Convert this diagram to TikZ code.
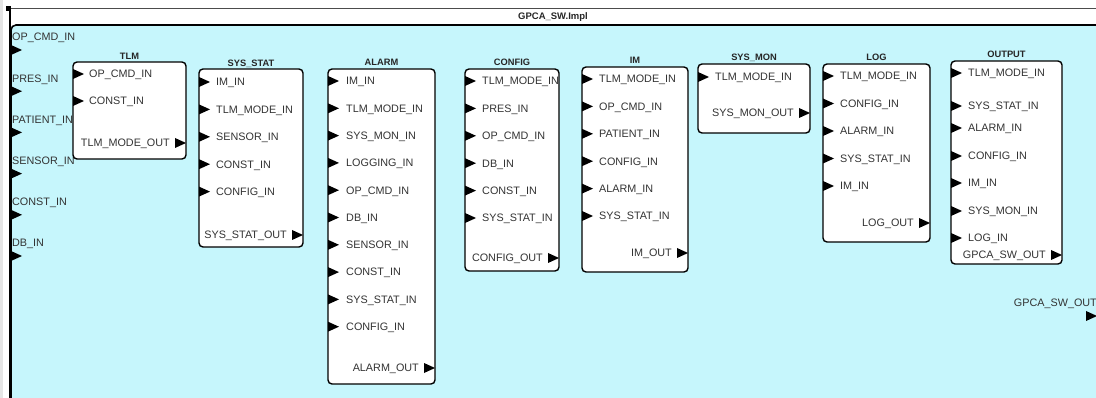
\documentclass[tikz,border=0pt]{standalone}
\usepackage{fontspec}
\setmainfont{Liberation Sans}
\usetikzlibrary{positioning, calc}
\definecolor{panelcyan}{RGB}{198,246,252}

\begin{document}
\begin{tikzpicture}[
		x=1pt, y=-1pt,
		panel/.style={rectangle, draw, line width=1.6pt, fill=panelcyan, rounded corners=5pt, anchor=north west, inner sep=0pt, outer sep=0pt},
		block/.style={rectangle, draw, line width=1.4pt, fill=white, rounded corners=4pt, anchor=north west, inner sep=0pt, outer sep=0pt},
		blocktitle/.style={anchor=base, font=\bfseries\fontsize{9.3}{10}\selectfont, text=black!85, inner sep=0pt},
		portlbl/.style={font=\fontsize{10.8}{12}\selectfont, text=black!80, inner sep=0pt, text height=7.8pt, text depth=0pt},
		intip/.pic={\fill (0,-5) -- (11,0) -- (0,5) -- cycle;},
		outtip/.pic={\fill (-11,-5) -- (0,0) -- (-11,5) -- cycle;}
		]
		\useasboundingbox (0,0) rectangle (1096,398);
		\clip (0,0) rectangle (1096,398);
		\fill[gray!20] (0,0) rectangle (3,398);
		
		% frame and title bar
		\draw[gray!60!black, line width=1pt] (8,9) -- (1100,9);
		\node[panel, minimum width=1100pt, minimum height=390pt] (gpca) at (11,25) {};
		\draw[line width=1.2pt] (10,8) -- (10,400);
		\fill (6,6) rectangle (11,11);
		\node[font=\bfseries\fontsize{9.5}{10}\selectfont, text=black!85] (gpcatitle) at (553,17) {GPCA\_SW.Impl};
		
		% outer ports
		\foreach \lbl [count=\k from 0] in {OP\_CMD\_IN, PRES\_IN, PATIENT\_IN, SENSOR\_IN, CONST\_IN, DB\_IN} {
			\node[portlbl, anchor=west] (ext\k) at ([xshift=1pt, yshift={-(12+41.2*\k)}]gpca.north west) {\lbl};
			\pic at ([yshift={-(25+41.2*\k)}]gpca.north west) {intip};
		}
		\coordinate (swout) at (1097,316);
		\node[portlbl, anchor=east] (swoutlbl) at (1097,303) {GPCA\_SW\_OUT};
		\pic at (swout) {outtip};
		
		% subcomponents
		\node[block, minimum width=113pt, minimum height=97pt] (tlm) at (73,62) {};
		\node[block, minimum width=104pt, minimum height=178pt] (sysstat) at (199,69) {};
		\node[block, minimum width=107pt, minimum height=315pt] (alarm) at (328,69) {};
		\node[block, minimum width=94pt, minimum height=202pt] (config) at (465,69) {};
		\node[block, minimum width=106pt, minimum height=205pt] (im) at (582,67) {};
		\node[block, minimum width=112pt, minimum height=69pt] (sysmon) at (698,64) {};
		\node[block, minimum width=107pt, minimum height=178pt] (log) at (823,64) {};
		\node[block, minimum width=111pt, minimum height=203pt] (output) at (951,61) {};
		
		\node[blocktitle] at ([yshift=2.5pt]tlm.north) {TLM};
		\node[blocktitle] at ([yshift=2.5pt]sysstat.north) {SYS\_STAT};
		\node[blocktitle] at ([yshift=3pt]alarm.north) {ALARM};
		\node[blocktitle] at ([yshift=3pt]config.north) {CONFIG};
		\node[blocktitle] at ([yshift=3pt]im.north) {IM};
		\node[blocktitle] at ([yshift=3pt]sysmon.north) {SYS\_MON};
		\node[blocktitle] at ([yshift=3pt]log.north) {LOG};
		\node[blocktitle] at ([yshift=3pt]output.north) {OUTPUT};
		
		% input ports
		\foreach \lbl [count=\k from 0] in {OP\_CMD\_IN, CONST\_IN} {
			\pic at ([yshift={-(12+27*\k)}]tlm.north west) {intip};
			\node[portlbl, anchor=west] at ([xshift=16pt, yshift={-(12+27*\k)}]tlm.north west) {\lbl};
		}
		\foreach \lbl [count=\k from 0] in {IM\_IN, TLM\_MODE\_IN, SENSOR\_IN, CONST\_IN, CONFIG\_IN} {
			\pic at ([yshift={-(13+27.4*\k)}]sysstat.north west) {intip};
			\node[portlbl, anchor=west] at ([xshift=17pt, yshift={-(13+27.4*\k)}]sysstat.north west) {\lbl};
		}
		\foreach \lbl [count=\k from 0] in {IM\_IN, TLM\_MODE\_IN, SYS\_MON\_IN, LOGGING\_IN, OP\_CMD\_IN, DB\_IN, SENSOR\_IN, CONST\_IN, SYS\_STAT\_IN, CONFIG\_IN} {
			\pic at ([yshift={-(12+27.3*\k)}]alarm.north west) {intip};
			\node[portlbl, anchor=west] at ([xshift=18pt, yshift={-(12+27.3*\k)}]alarm.north west) {\lbl};
		}
		\foreach \lbl [count=\k from 0] in {TLM\_MODE\_IN, PRES\_IN, OP\_CMD\_IN, DB\_IN, CONST\_IN, SYS\_STAT\_IN} {
			\pic at ([yshift={-(12+27.4*\k)}]config.north west) {intip};
			\node[portlbl, anchor=west] at ([xshift=17pt, yshift={-(12+27.4*\k)}]config.north west) {\lbl};
		}
		\foreach \lbl [count=\k from 0] in {TLM\_MODE\_IN, OP\_CMD\_IN, PATIENT\_IN, CONFIG\_IN, ALARM\_IN, SYS\_STAT\_IN} {
			\pic at ([yshift={-(12+27.4*\k)}]im.north west) {intip};
			\node[portlbl, anchor=west] at ([xshift=17pt, yshift={-(12+27.4*\k)}]im.north west) {\lbl};
		}
		\pic at ([yshift=-13pt]sysmon.north west) {intip};
		\node[portlbl, anchor=west] at ([xshift=17pt, yshift=-13pt]sysmon.north west) {TLM\_MODE\_IN};
		\foreach \lbl [count=\k from 0] in {TLM\_MODE\_IN, CONFIG\_IN, ALARM\_IN, SYS\_STAT\_IN, IM\_IN} {
			\pic at ([yshift={-(12+27.5*\k)}]log.north west) {intip};
			\node[portlbl, anchor=west] at ([xshift=17pt, yshift={-(12+27.5*\k)}]log.north west) {\lbl};
		}
		\foreach \dy/\lbl in {12/TLM\_MODE\_IN, 45/SYS\_STAT\_IN, 67/ALARM\_IN, 95/CONFIG\_IN, 122/IM\_IN, 150/SYS\_MON\_IN, 177/LOG\_IN} {
			\pic at ([yshift=-\dy pt]output.north west) {intip};
			\node[portlbl, anchor=west] at ([xshift=17pt, yshift=-\dy pt]output.north west) {\lbl};
		}
		
		% output ports
		\foreach \b/\dy/\lbl in {tlm/81/TLM\_MODE\_OUT, sysstat/166/SYS\_STAT\_OUT, alarm/299/ALARM\_OUT, config/189/CONFIG\_OUT, im/186/IM\_OUT, sysmon/49/SYS\_MON\_OUT, log/159/LOG\_OUT, output/194/GPCA\_SW\_OUT} {
			\pic at ([yshift=-\dy pt]\b.north east) {outtip};
			\node[portlbl, anchor=east] at ([xshift=-16pt, yshift=-\dy pt]\b.north east) {\lbl};
		}
\end{tikzpicture}
\end{document}
